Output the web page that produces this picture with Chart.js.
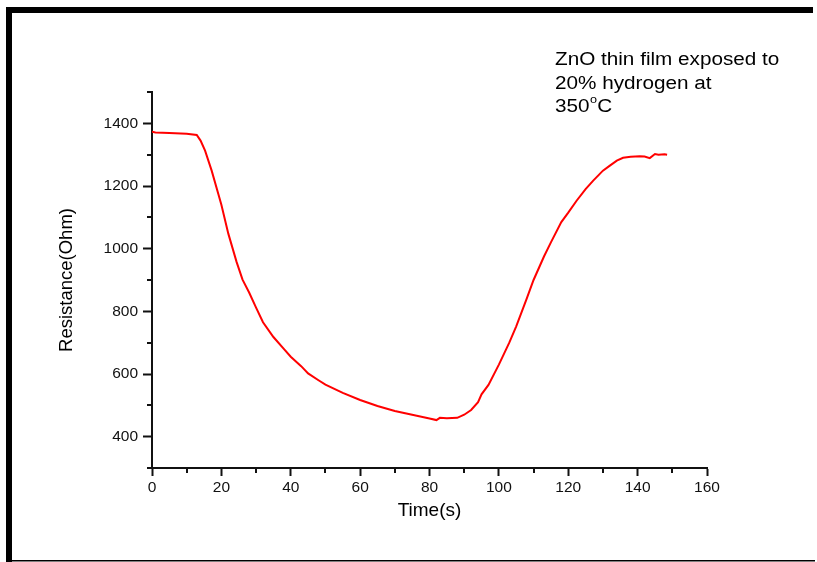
<!DOCTYPE html>
<html>
<head>
<meta charset="utf-8">
<script src="https://cdn.jsdelivr.net/npm/chart.js@4"></script>
<style>
  html, body { margin: 0; padding: 0; background: #fff; }
  #grafica { display: block; }
</style>
</head>
<body>
<canvas id="grafica" width="817" height="562"></canvas>
<script>
// =================== Datos ===================

// Tiempo (s)
const tiempo = [0, 1, 5, 10, 12.9, 14, 15.3, 17.2, 19.1, 20, 22, 24.4, 26.1, 28, 30, 32, 35, 38, 40, 43,
  45, 48, 50, 55, 60, 65, 70, 75, 80, 82, 83, 85, 88, 90, 92, 94, 95, 97, 100, 103, 105, 108, 110,
  113, 115, 118, 120, 122.4, 125, 127.2, 130, 132, 134, 135.8, 138, 140.6, 142, 143.5, 145, 146, 147.8, 148.5];

// Resistencia (Ohm) para cada tiempo
const resistencia = [1373, 1371, 1369, 1367, 1363, 1345, 1313, 1249, 1175, 1140, 1048, 957, 901, 860, 812, 765, 718, 680, 655, 625,
  602, 580, 566, 540, 517, 498, 482, 470, 458, 453, 460, 459, 460, 470, 485, 510, 535, 565, 630, 700, 752, 840, 900,
  975, 1020, 1085, 1115, 1153, 1190, 1217, 1249, 1265, 1281, 1290, 1293, 1295, 1294, 1289, 1302, 1300, 1301, 1300];

// Marcas de los ejes
const ticksMayoresX = [0, 20, 40, 60, 80, 100, 120, 140, 160];
const ticksMenoresX = [10, 30, 50, 70, 90, 110, 130, 150];
const ticksMayoresY = [400, 600, 800, 1000, 1200, 1400];
const ticksMenoresY = [300, 500, 700, 900, 1100, 1300, 1500];

// Texto de la nota
const notaLineas = ["ZnO thin film exposed to", "20% hydrogen at", "350"];

const FUENTE = "'Liberation Sans', Arial, sans-serif";

// =================== Plugins ===================

// Marco negro alrededor de la figura
const marco = {
  id: "marco",
  beforeDraw(chart) {
    const c = chart.ctx;
    c.save();
    c.fillStyle = "#fff";
    c.fillRect(0, 0, chart.width, chart.height);
    c.fillStyle = "#000";
    c.fillRect(6, 7, 6, 555);    // izquierda
    c.fillRect(6, 7, 807, 6);    // arriba
    c.fillRect(6, 560, 809, 1.5); // abajo
    c.restore();
  }
};

// Marcas menores y nota de texto
const extras = {
  id: "extras",
  afterDraw(chart) {
    const c = chart.ctx;
    const sx = chart.scales.x;
    const sy = chart.scales.y;
    c.save();
    c.strokeStyle = "#111";
    c.lineWidth = 2;
    c.beginPath();
    ticksMenoresX.forEach(v => {
      const px = Math.round(sx.getPixelForValue(v));
      c.moveTo(px, sx.top);
      c.lineTo(px, sx.top + 5);
    });
    ticksMenoresY.forEach(v => {
      const py = Math.round(sy.getPixelForValue(v));
      c.moveTo(sy.right, py);
      c.lineTo(sy.right - 5, py);
    });
    c.stroke();

    // nota (el texto original está algo estirado en horizontal)
    c.fillStyle = "#000";
    c.textBaseline = "alphabetic";
    c.translate(555, 0);
    c.scale(1.15, 1);
    c.font = "18px " + FUENTE;
    c.fillText(notaLineas[0], 0, 65);
    c.fillText(notaLineas[1], 0, 89);
    c.fillText(notaLineas[2], 0, 112);
    let w = c.measureText(notaLineas[2]).width;
    c.font = "11px " + FUENTE;
    c.fillText("o", w + 0.5, 103);
    w += c.measureText("o").width + 0.5;
    c.font = "18px " + FUENTE;
    c.fillText("C", w, 112);
    c.restore();
  }
};

// =================== Gráfica ===================

const puntos = tiempo.map((t, i) => ({ x: t, y: resistencia[i] }));

new Chart(document.getElementById("grafica").getContext("2d"), {
  type: "line",
  data: {
    datasets: [{
      data: puntos,
      borderColor: "#ff0000",
      borderWidth: 2,
      pointRadius: 0,
      tension: 0,
      fill: false
    }]
  },
  options: {
    responsive: false,
    animation: false,
    layout: { padding: { top: 92, right: 110, left: 0, bottom: 0 } },
    plugins: {
      legend: { display: false },
      tooltip: { enabled: false }
    },
    scales: {
      x: {
        type: "linear",
        min: 0,
        max: 160,
        afterBuildTicks: (s) => { s.ticks = ticksMayoresX.map(v => ({ value: v })); },
        ticks: {
          autoSkip: false,
          maxRotation: 0,
          color: "#111",
          padding: 2,
          font: { family: FUENTE, size: 15.5 },
          callback: (v) => String(v)
        },
        grid: { drawOnChartArea: false, tickLength: 8, tickWidth: 2, tickColor: "#111" },
        border: { display: true, color: "#111", width: 2 },
        title: {
          display: true,
          text: "Time(s)",
          color: "#000",
          font: { family: FUENTE, size: 19 },
          padding: { top: 0, bottom: 40 }
        },
        afterFit: (s) => { s.height = 94; }
      },
      y: {
        min: 300,
        max: 1500,
        afterBuildTicks: (s) => { s.ticks = ticksMayoresY.map(v => ({ value: v })); },
        ticks: {
          color: "#111",
          padding: 5,
          font: { family: FUENTE, size: 15.5 },
          callback: (v) => String(v)
        },
        grid: { drawOnChartArea: false, tickLength: 9, tickWidth: 2, tickColor: "#111" },
        border: { display: true, color: "#111", width: 2 },
        title: {
          display: true,
          text: "Resistance(Ohm)",
          color: "#000",
          font: { family: FUENTE, size: 18.5 },
          padding: { top: 56, bottom: 0 }
        },
        afterFit: (s) => { s.width = 152; }
      }
    }
  },
  plugins: [marco, extras]
});
</script>
</body>
</html>
